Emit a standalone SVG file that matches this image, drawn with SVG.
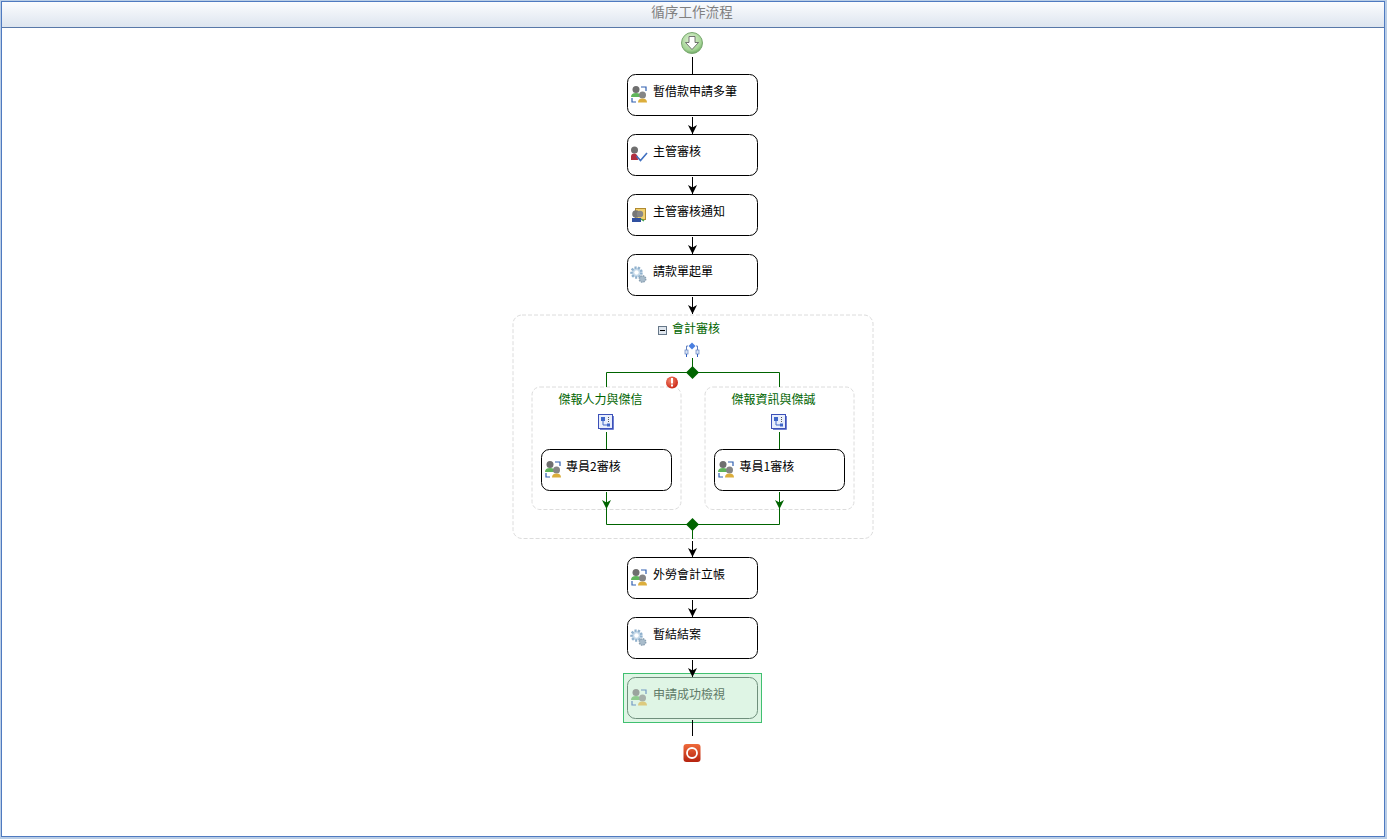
<svg xmlns="http://www.w3.org/2000/svg" width="1387" height="839" viewBox="0 0 1387 839">
<style>
.cjk{font-family:"Noto Sans CJK TC","Liberation Sans",sans-serif;font-size:12px}
.box{fill:#fff;stroke:#000;stroke-width:1}
.t{fill:#000}
.g{fill:#006400}
.c{fill:none;stroke:#000;stroke-width:1}
.cg{fill:none;stroke:#006400;stroke-width:1}
.dash{fill:#fff;stroke:#dcdcdc;stroke-width:1;stroke-dasharray:4 2}
</style>
<defs>
<linearGradient id="hd" x1="0" y1="0" x2="0" y2="1"><stop offset="0" stop-color="#fbfcfe"/><stop offset="1" stop-color="#dde5ef"/></linearGradient>
<radialGradient id="gn" cx=".45" cy=".35" r=".7"><stop offset="0" stop-color="#e2f2d8"/><stop offset=".7" stop-color="#a5d596"/><stop offset="1" stop-color="#5f9f55"/></radialGradient>
<linearGradient id="rd" x1="0" y1="0" x2="0" y2="1"><stop offset="0" stop-color="#ef6a3a"/><stop offset="1" stop-color="#b5230f"/></linearGradient>
<radialGradient id="er" cx=".4" cy=".35" r=".7"><stop offset="0" stop-color="#f58a70"/><stop offset="1" stop-color="#c82010"/></radialGradient>
<marker id="arr" markerWidth="10" markerHeight="10" refX="9" refY="5" orient="auto" markerUnits="userSpaceOnUse"><path d="M0,.5 L9,5 L0,9.500 L2.500,5 Z" fill="#000"/></marker>
<marker id="arrg" markerWidth="10" markerHeight="10" refX="9" refY="5" orient="auto" markerUnits="userSpaceOnUse"><path d="M0,.5 L9,5 L0,9.500 L2.500,5 Z" fill="#006400"/></marker>
<g id="i-user2">
<circle cx="5" cy="3.500" r="3.500" fill="#6f6f6f"/><path d="M0,11 Q0,7 5,7 Q10,7 10,11 Z" fill="#5fb45a"/>
<circle cx="11.500" cy="9" r="3.500" fill="#858585"/><path d="M7,16.500 Q7,12.500 11.500,12.500 Q16,12.500 16,16.500 Z" fill="#dcae3c"/>
<path d="M10,1 H15 V5" fill="none" stroke="#2f5fb0" stroke-width="1.200"/><path d="M1,12 V16 H5" fill="none" stroke="#2f5fb0" stroke-width="1.200"/>
</g>
<g id="i-gear">
<circle cx="6.500" cy="6.500" r="5" fill="#c4d8e8" stroke="#8fb0cc" stroke-width="2.500" stroke-dasharray="2 1.500"/><circle cx="6.500" cy="6.500" r="2.200" fill="#fff"/>
<circle cx="12.500" cy="13" r="3.200" fill="#a9bccb" stroke="#8aa0b2" stroke-width="1.500" stroke-dasharray="1.500 1"/>
</g>
<g id="i-seq">
<rect x=".5" y=".5" width="14" height="14" fill="#e8eefc" stroke="#3c50b8"/><path d="M15.500,2 V15.500 H2" fill="none" stroke="#6f80d0"/>
<rect x="3" y="3" width="4" height="4" fill="#3f66c8"/><path d="M5,7 V11 H9" fill="none" stroke="#3f66c8"/><path d="M10.500,3 V9" stroke="#555" stroke-dasharray="1 1"/><rect x="9" y="9.500" width="3" height="3" fill="#3f66c8"/>
</g>
</defs>
<rect width="1387" height="839" fill="#b9cde6"/>
<rect x="1.500" y="1.500" width="1383" height="835" fill="#fff" stroke="#4f7ac0"/>
<rect x="2" y="2" width="1382" height="25" fill="url(#hd)"/>
<path d="M2,27.500 H1384" stroke="#5878a8" fill="none"/>
<text class="cjk" x="692" y="17" text-anchor="middle" fill="#808080" style="font-size:13.600px">循序工作流程</text>

<g id="seq-container"><rect class="dash" x="513" y="315" width="360" height="223.500" rx="9"/></g>
<g id="branch-left"><rect class="dash" x="532" y="387" width="149" height="122.500" rx="8"/>
<text class="cjk g" x="600.500" y="404" text-anchor="middle">傑報人力與傑信</text><use href="#i-seq" x="598" y="414"/></g>
<g id="branch-right"><rect class="dash" x="705" y="387" width="149" height="122.500" rx="8"/>
<text class="cjk g" x="773.500" y="404" text-anchor="middle">傑報資訊與傑誠</text><use href="#i-seq" x="771" y="414"/></g>

<g id="start"><circle cx="692" cy="43" r="10.500" fill="url(#gn)" stroke="#7aa870"/><path d="M689,36.500 H695 V42.500 H698.500 L692,49.500 L685.500,42.500 H689 Z" fill="#fff" stroke="#555" stroke-width=".8"/></g>

<g id="n1"><rect class="box" x="627.500" y="74.500" width="130" height="41" rx="8"/><use href="#i-user2" x="631" y="86"/><text class="cjk t" x="653" y="96">暫借款申請多筆</text></g>
<g id="n2"><rect class="box" x="627.500" y="134.500" width="130" height="41" rx="8"/>
<circle cx="634.500" cy="150" r="3.500" fill="#6f6f6f"/><path d="M631,160 V156.500 Q631,153.500 634.500,153.500 Q638,153.500 638,160 Z" fill="#b03040"/><path d="M636.500,156 L640.500,160.500 L647,153" fill="none" stroke="#4070c0" stroke-width="1.600"/>
<text class="cjk t" x="653" y="156">主管審核</text></g>
<g id="n3"><rect class="box" x="627.500" y="194.500" width="130" height="41" rx="8"/>
<rect x="635.500" y="208.500" width="10" height="11" fill="#f0d070" stroke="#b08a30"/><circle cx="636" cy="214" r="3.800" fill="#777"/><circle cx="640" cy="214" r="3.200" fill="#888"/><path d="M632,222 H641 V218 H632 Z" fill="#3050a0"/><path d="M641,219 L644,221" stroke="#40a050" stroke-width="1.500"/>
<text class="cjk t" x="653" y="216">主管審核通知</text></g>
<g id="n4"><rect class="box" x="627.500" y="254.500" width="130" height="41" rx="8"/><use href="#i-gear" x="630" y="266"/><text class="cjk t" x="653" y="276">請款單起單</text></g>

<g id="group-title"><rect x="658.500" y="326.500" width="8" height="8" fill="#dfe6ee" stroke="#667788"/><path d="M660,330.500 H665" stroke="#000"/>
<text class="cjk g" x="672" y="332.500">會計審核</text>
<path d="M692,342.500 L695.500,346 L692,349.500 L688.500,346 Z" fill="#4a7fe0"/><path d="M688,346 H686.500 V350 M696,346 H697.500 V350" fill="none" stroke="#6080c0"/>
<rect x="685" y="350" width="3" height="4" fill="#dce6f8" stroke="#6080c0" stroke-width=".7"/><rect x="696" y="350" width="3" height="4" fill="#dce6f8" stroke="#6080c0" stroke-width=".7"/>
<path d="M686.500,354 V357 M697.500,354 V357" stroke="#3060c0"/></g>

<g id="error"><circle cx="672" cy="382.500" r="6" fill="url(#er)"/><rect x="671" y="378" width="2" height="5.500" fill="#fff"/><rect x="671" y="384.500" width="2" height="2" fill="#fff"/></g>

<g id="n5"><rect class="box" x="541.500" y="449.500" width="130" height="41" rx="8"/><use href="#i-user2" x="545" y="461"/><text class="cjk t" x="566" y="471">專員2審核</text></g>
<g id="n6"><rect class="box" x="714.500" y="449.500" width="130" height="41" rx="8"/><use href="#i-user2" x="718" y="461"/><text class="cjk t" x="739.500" y="471">專員1審核</text></g>
<g id="n7"><rect class="box" x="627.500" y="557.500" width="130" height="41" rx="8"/><use href="#i-user2" x="631" y="569"/><text class="cjk t" x="653" y="579">外勞會計立帳</text></g>
<g id="n8"><rect class="box" x="627.500" y="617.500" width="130" height="41" rx="8"/><use href="#i-gear" x="630" y="629"/><text class="cjk t" x="653" y="639">暫結結案</text></g>
<g id="n9"><rect x="623.500" y="673.500" width="138" height="49" fill="#dff5e5" stroke="#40c070"/><rect x="627.500" y="677.500" width="130" height="41" rx="8" fill="#dff5e5" stroke="#6f8f7c"/><use href="#i-user2" x="631" y="689" opacity=".6"/><text class="cjk" x="653" y="699" fill="#5f7a68">申請成功檢視</text></g>

<g id="end"><rect x="683.500" y="744" width="17" height="18" rx="3" fill="url(#rd)"/><circle cx="692" cy="753" r="5" fill="none" stroke="#fff" stroke-width="1.800"/></g>

<g id="connectors">
<path class="c" d="M692.500,57 V74"/>
<path class="c" marker-end="url(#arr)" d="M692.500,117 V134"/>
<path class="c" marker-end="url(#arr)" d="M692.500,177 V194"/>
<path class="c" marker-end="url(#arr)" d="M692.500,237 V254"/>
<path class="c" marker-end="url(#arr)" d="M692.500,297 V314"/>
<path class="cg" d="M692.500,358 V372.500 M606.500,387 V372.500 H779.500 V387"/>
<path class="cg" d="M606.500,432 V449 M779.500,432 V449"/>
<path class="cg" marker-end="url(#arrg)" d="M606.500,492 V509"/>
<path class="cg" marker-end="url(#arrg)" d="M779.500,492 V509"/>
<path class="cg" d="M606.500,509 V524.500 H779.500 V509 M692.500,524.500 V539"/>
<path class="c" marker-end="url(#arr)" d="M692.500,541 V557"/>
<path class="c" marker-end="url(#arr)" d="M692.500,600 V617"/>
<path class="c" marker-end="url(#arr)" d="M692.500,660 V677"/>
<path class="c" d="M692.500,720 V736"/>
<path class="g" d="M692.500,366 L699,372.500 L692.500,379 L686,372.500 Z"/>
<path class="g" d="M692.500,518 L699,524.500 L692.500,531 L686,524.500 Z"/>
</g>
</svg>
